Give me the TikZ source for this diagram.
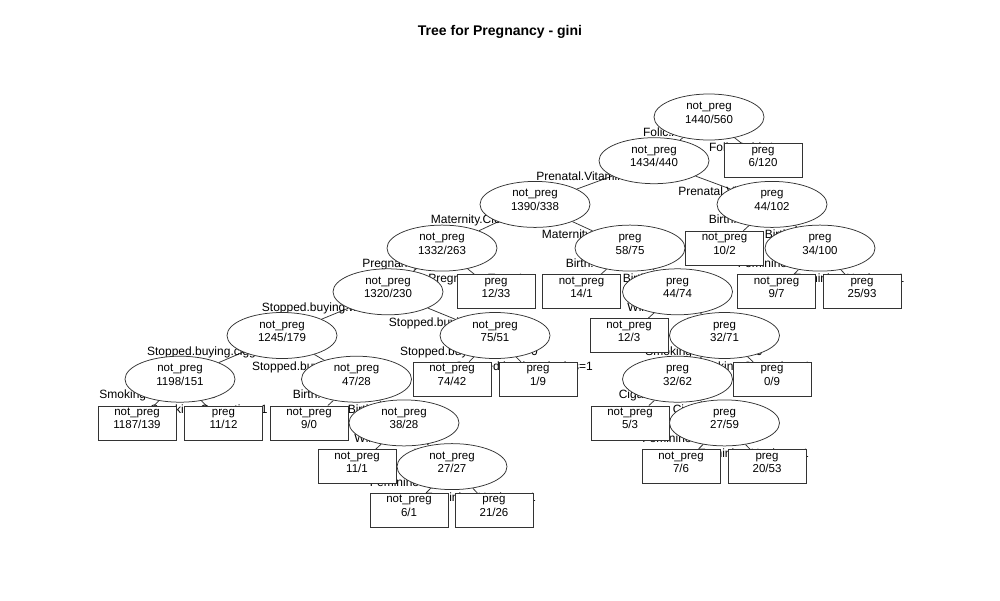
\documentclass[tikz,border=0pt]{standalone}
\usepackage{fontspec}
\setmainfont{Liberation Sans}
\usepackage{tikz}
\usetikzlibrary{shapes}
\pgfdeclarelayer{bg}
\pgfsetlayers{bg,main}
\tikzset{
  split/.style = {ellipse, draw = black!80, fill = white, line width = .75pt,
    minimum width = 110pt, minimum height = 46pt, inner sep = 0pt, align = center,
    font = \fontsize{11.5}{13.5}\selectfont, text height = 18pt, text depth = 6pt},
  leaf/.style = {rectangle, draw = black!80, fill = white, line width = .75pt,
    minimum width = 78pt, minimum height = 34pt, inner sep = 0pt, align = center,
    font = \fontsize{11.5}{13.5}\selectfont, text height = 18pt, text depth = 6pt},
  cond/.style = {anchor = base, inner sep = 0pt, font = \fontsize{12}{14}\selectfont},
  branch/.style = {draw = black!80, line width = .75pt}
}

\begin{document}
\begin{tikzpicture}[x = 1pt, y = -1pt]
\useasboundingbox (0,0) rectangle (1000,600);
\node[anchor = base, font = \fontsize{14}{16}\selectfont\bfseries] (title) at (500,35) {Tree for Pregnancy - gini};

% nodes, level by level
\node[split] (n1) at (709,117) {not\_preg\\1440/560};
\node[split] (n2) at (654,160.7) {not\_preg\\1434/440};
\node[leaf] (f1) at (763,160.7) {preg\\6/120};
\node[split] (n3) at (535,204.4) {not\_preg\\1390/338};
\node[split] (n4) at (772,204.4) {preg\\44/102};
\node[split] (n5) at (442,248.1) {not\_preg\\1332/263};
\node[split] (n6) at (630,248.1) {preg\\58/75};
\node[leaf] (f2) at (724.5,248.1) {not\_preg\\10/2};
\node[split] (n7) at (820,248.1) {preg\\34/100};
\node[split] (n8) at (388,291.8) {not\_preg\\1320/230};
\node[leaf] (f3) at (496,291.8) {preg\\12/33};
\node[leaf] (f4) at (581.5,291.8) {not\_preg\\14/1};
\node[split] (n9) at (677.5,291.8) {preg\\44/74};
\node[leaf] (f5) at (776.5,291.8) {not\_preg\\9/7};
\node[leaf] (f6) at (862,291.8) {preg\\25/93};
\node[split] (n10) at (282,335.5) {not\_preg\\1245/179};
\node[split] (n11) at (495,335.5) {not\_preg\\75/51};
\node[leaf] (f7) at (629,335.5) {not\_preg\\12/3};
\node[split] (n12) at (724.5,335.5) {preg\\32/71};
\node[split] (n13) at (180,379.2) {not\_preg\\1198/151};
\node[split] (n14) at (356.5,379.2) {not\_preg\\47/28};
\node[leaf] (f8) at (452,379.2) {not\_preg\\74/42};
\node[leaf] (f9) at (538,379.2) {preg\\1/9};
\node[split] (n15) at (677.5,379.2) {preg\\32/62};
\node[leaf] (f10) at (772,379.2) {preg\\0/9};
\node[leaf] (f11) at (137,422.9) {not\_preg\\1187/139};
\node[leaf] (f12) at (223.5,422.9) {preg\\11/12};
\node[leaf] (f13) at (309,422.9) {not\_preg\\9/0};
\node[split] (n16) at (404,422.9) {not\_preg\\38/28};
\node[leaf] (f14) at (630,422.9) {not\_preg\\5/3};
\node[split] (n17) at (724.5,422.9) {preg\\27/59};
\node[leaf] (f15) at (357,466.6) {not\_preg\\11/1};
\node[split] (n18) at (452,466.6) {not\_preg\\27/27};
\node[leaf] (f16) at (681,466.6) {not\_preg\\7/6};
\node[leaf] (f17) at (767,466.6) {preg\\20/53};
\node[leaf] (f18) at (409,510.3) {not\_preg\\6/1};
\node[leaf] (f19) at (494,510.3) {preg\\21/26};

\begin{pgfonlayer}{bg}
\fill[white] (0,0) rectangle (1000,600);
% branches
\draw[branch] (n1) -- (n2) (n1) -- (f1);
\draw[branch] (n2) -- (n3) (n2) -- (n4);
\draw[branch] (n3) -- (n5) (n3) -- (n6);
\draw[branch] (n4) -- (f2) (n4) -- (n7);
\draw[branch] (n5) -- (n8) (n5) -- (f3);
\draw[branch] (n6) -- (f4) (n6) -- (n9);
\draw[branch] (n7) -- (f5) (n7) -- (f6);
\draw[branch] (n8) -- (n10) (n8) -- (n11);
\draw[branch] (n9) -- (f7) (n9) -- (n12);
\draw[branch] (n10) -- (n13) (n10) -- (n14);
\draw[branch] (n11) -- (f8) (n11) -- (f9);
\draw[branch] (n12) -- (n15) (n12) -- (f10);
\draw[branch] (n13) -- (f11) (n13) -- (f12);
\draw[branch] (n14) -- (f13) (n14) -- (n16);
\draw[branch] (n15) -- (f14) (n15) -- (n17);
\draw[branch] (n16) -- (f15) (n16) -- (n18);
\draw[branch] (n17) -- (f16) (n17) -- (f17);
\draw[branch] (n18) -- (f18) (n18) -- (f19);
% split conditions
\node[cond] (c1l) at (676,136.5) {Folic.Acid=0};
\node[cond] (c1r) at (742,151.5) {Folic.Acid=1};
\node[cond] (c2l) at (590,180.2) {Prenatal.Vitamins=0};
\node[cond] (c2r) at (732,195.2) {Prenatal.Vitamins=1};
\node[cond] (c3l) at (484,223.9) {Maternity.Clothes=0};
\node[cond] (c3r) at (595,238.9) {Maternity.Clothes=1};
\node[cond] (c4l) at (749,223.9) {Birth.Control=0};
\node[cond] (c4r) at (805,238.9) {Birth.Control=1};
\node[cond] (c5l) at (410,267.6) {Pregnancy.Test=0};
\node[cond] (c5r) at (476,282.6) {Pregnancy.Test=1};
\node[cond] (c6l) at (606,267.6) {Birth.Control=0};
\node[cond] (c6r) at (663,282.6) {Birth.Control=1};
\node[cond] (c7l) at (793,267.6) {Feminine.Hygiene=0};
\node[cond] (c7r) at (849,282.6) {Feminine.Hygiene=1};
\node[cond] (c8l) at (324.5,311.3) {Stopped.buying.wine=0};
\node[cond] (c8r) at (451.5,326.3) {Stopped.buying.wine=1};
\node[cond] (c9l) at (648,311.3) {Wine=0};
\node[cond] (c9r) at (708,326.3) {Wine=1};
\node[cond] (c10l) at (216,355) {Stopped.buying.ciggies=0};
\node[cond] (c10r) at (321,370) {Stopped.buying.ciggies=1};
\node[cond] (c11l) at (469,355) {Stopped.buying.ciggies=0};
\node[cond] (c11r) at (524,370) {Stopped.buying.ciggies=1};
\node[cond] (c12l) at (704,355) {Smoking.Cessation=0};
\node[cond] (c12r) at (752,370) {Smoking.Cessation=1};
\node[cond] (c13l) at (158,398.7) {Smoking.Cessation=0};
\node[cond] (c13r) at (209,413.7) {Smoking.Cessation=1};
\node[cond] (c14l) at (333,398.7) {Birth.Control=0};
\node[cond] (c14r) at (388,413.7) {Birth.Control=1};
\node[cond] (c15l) at (653,398.7) {Cigarettes=0};
\node[cond] (c15r) at (707,413.7) {Cigarettes=1};
\node[cond] (c16l) at (375,442.4) {Wine=0};
\node[cond] (c16r) at (435,457.4) {Wine=1};
\node[cond] (c17l) at (697.5,442.4) {Feminine.Hygiene=0};
\node[cond] (c17r) at (753.5,457.4) {Feminine.Hygiene=1};
\node[cond] (c18l) at (425,486.1) {Feminine.Hygiene=0};
\node[cond] (c18r) at (480.5,501.1) {Feminine.Hygiene=1};
\end{pgfonlayer}
\end{tikzpicture}
\end{document}
